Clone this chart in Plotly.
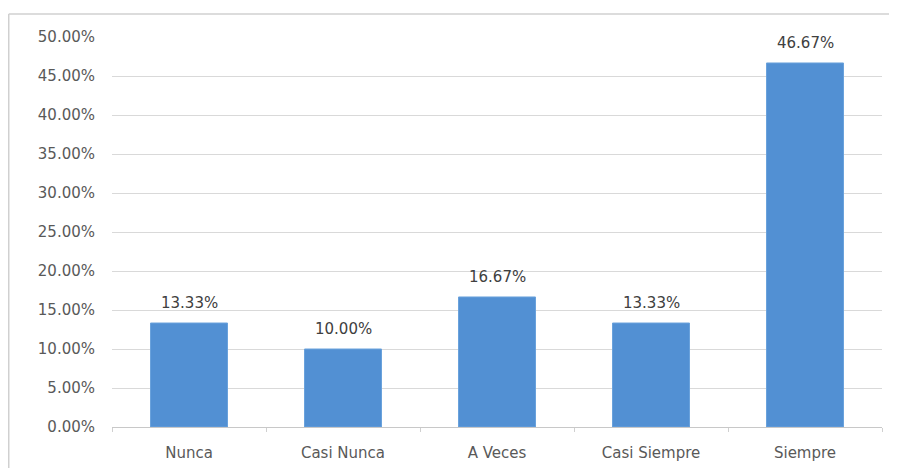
import plotly.graph_objects as go

categories = ["Nunca", "Casi Nunca", "A Veces", "Casi Siempre", "Siempre"]
values = [13.33, 10.00, 16.67, 13.33, 46.67]
tick_vals = [0, 5, 10, 15, 20, 25, 30, 35, 40, 45, 50]
tick_text = [f"{v:.2f}%" for v in tick_vals]
labels = [f"{v:.2f}%" for v in values]

FONT = "DejaVu Sans, Verdana, sans-serif"

fig = go.Figure()
fig.add_trace(go.Bar(
    x=categories, y=values,
    marker=dict(color="#5290d3", line=dict(color="#6aa2dc", width=1)),
    hoverinfo="x+y",
))

for c, v, t in zip(categories, values, labels):
    fig.add_annotation(x=c, y=v, text=t, showarrow=False, yanchor="bottom",
                       yshift=9, font=dict(family=FONT, size=15, color="#404040"))

fig.update_layout(
    width=889, height=460,
    margin=dict(l=104, r=15, t=29, b=41, autoexpand=False),
    paper_bgcolor="white", plot_bgcolor="white",
    bargap=0.5,
    showlegend=False,
    font=dict(family=FONT, size=15, color="#595959"),
    shapes=[
        dict(type="line", xref="paper", yref="paper", x0=-0.1341, x1=1.2, y0=1.059, y1=1.059,
             line=dict(color="#d0d0d0", width=1.5)),
        dict(type="line", xref="paper", yref="paper", x0=-0.1341, x1=-0.1341, y0=1.059, y1=-0.3,
             line=dict(color="#d0d0d0", width=1.5)),
    ],
)
fig.update_yaxes(range=[0, 50], tickvals=tick_vals, ticktext=tick_text, automargin=False,
                 showgrid=True, gridcolor="#d9d9d9", gridwidth=1,
                 zeroline=False, showline=False, ticks="", ticklabelstandoff=16,
                 tickfont=dict(family=FONT, size=15, color="#595959"))
fig.update_xaxes(showline=True, linecolor="#c8c8c8", linewidth=1, automargin=False,
                 ticks="outside", tickson="boundaries", ticklen=4, tickcolor="#d0d0d0",
                 ticklabelstandoff=12, tickfont=dict(family=FONT, size=15, color="#595959"))

fig.write_html("out.html")
